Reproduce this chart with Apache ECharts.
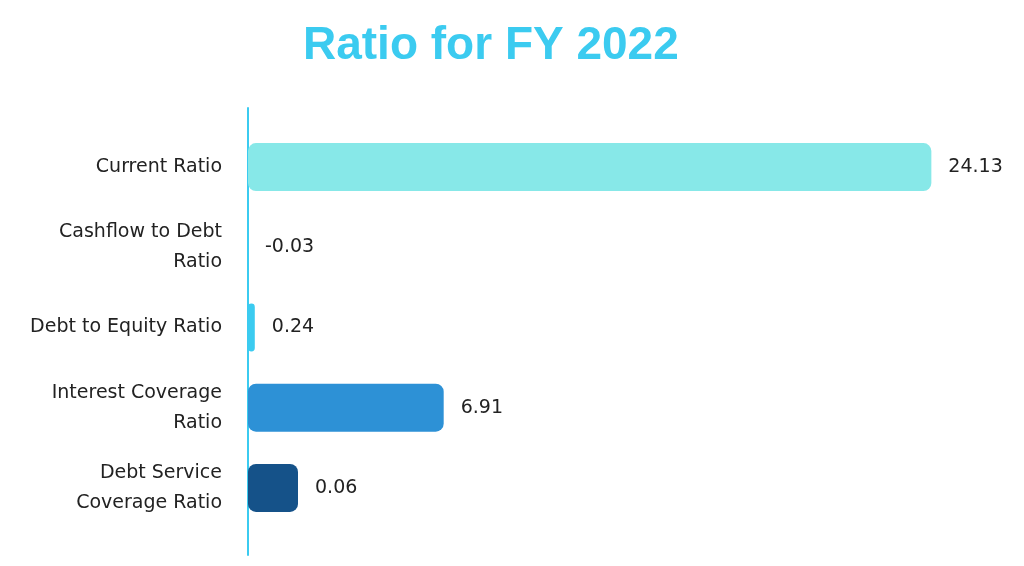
<!DOCTYPE html>
<html>
<head>
<meta charset="utf-8">
<script src="https://cdn.jsdelivr.net/npm/echarts@6/dist/echarts.min.js"></script>
<style>
  html, body { margin: 0; padding: 0; background: #fff; }
  #chart { width: 1024px; height: 566px; }
</style>
</head>
<body>
<div id="chart"></div>
<script>
// ratios for FY 2022
var categories = ['Current Ratio', 'Cashflow to Debt\nRatio', 'Debt to Equity Ratio',
  'Interest Coverage\nRatio', 'Debt Service\nCoverage Ratio'];
var values = [24.13, -0.03, 0.24, 6.91, 0.06];
var colors = ['#87E8E8', '#87E8E8', '#3BCBF0', '#2D91D6', '#155289'];

var chart = echarts.init(document.getElementById('chart'));

// last item is drawn with a minimum length, like in the original picture
var mainData = values.map(function (v, i) {
  if (i === values.length - 1) return '-';
  return { value: v, itemStyle: { color: colors[i] } };
});
var minData = values.map(function (v, i) {
  if (i !== values.length - 1) return '-';
  return { value: v, itemStyle: { color: colors[i] } };
});

var labelStyle = {
  show: true,
  position: 'right',
  distance: 17,
  color: '#222',
  fontSize: 19,
  fontFamily: 'DejaVu Sans'
};

chart.setOption({
  animation: false,
  title: {
    text: 'Ratio for FY 2022',
    left: 298,
    top: 18,
    textStyle: {
      color: '#3BCBF0',
      fontSize: 46,
      fontWeight: 'bold',
      fontFamily: 'Liberation Sans'
    }
  },
  grid: [
    { left: 248, right: 68, top: 127, bottom: 38 },
    { left: 248, right: 68, top: 108, bottom: 11 }
  ],
  xAxis: [
    { type: 'value', gridIndex: 0, min: 0, max: 25, show: false },
    { type: 'value', gridIndex: 1, show: false }
  ],
  yAxis: [
    {
      type: 'category',
      gridIndex: 0,
      inverse: true,
      data: categories,
      axisLine: { show: false },
      axisTick: { show: false },
      axisLabel: {
        margin: 26,
        color: '#222',
        fontSize: 19,
        lineHeight: 30,
        fontFamily: 'DejaVu Sans'
      }
    },
    {
      type: 'category',
      gridIndex: 1,
      data: [''],
      axisLine: { show: true, lineStyle: { color: '#3BCBF0', width: 2 } },
      axisTick: { show: false },
      axisLabel: { show: false }
    }
  ],
  series: [
    {
      type: 'bar',
      xAxisIndex: 0,
      yAxisIndex: 0,
      data: mainData,
      barWidth: 48,
      barGap: '-100%',
      itemStyle: { borderRadius: 8 },
      label: labelStyle
    },
    {
      type: 'bar',
      xAxisIndex: 0,
      yAxisIndex: 0,
      data: minData,
      barWidth: 48,
      barGap: '-100%',
      barMinHeight: 50,
      itemStyle: { borderRadius: 8 },
      label: labelStyle
    }
  ]
});
</script>
</body>
</html>
